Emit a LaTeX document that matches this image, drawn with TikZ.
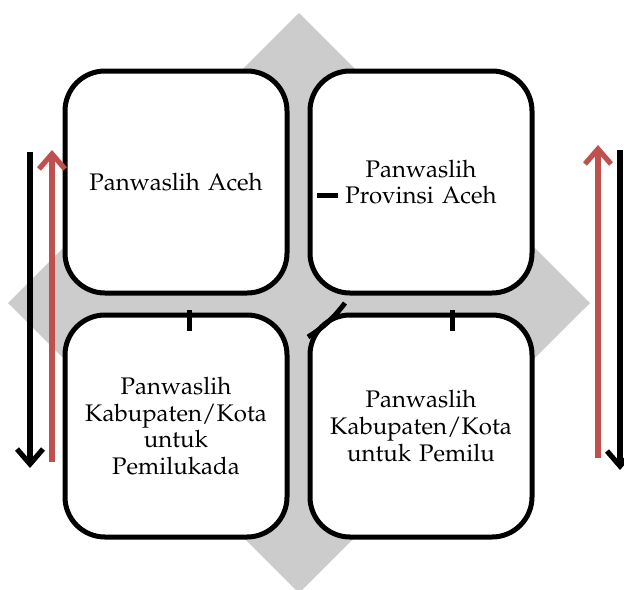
\documentclass[tikz,border=0pt]{standalone}
\usepackage[T1]{fontenc}
\usepackage{mathpazo}
\usetikzlibrary{arrows.meta}
\definecolor{arrowred}{RGB}{192,80,77}

\begin{document}
\begin{tikzpicture}[x=0.5pt, y=-0.5pt, line width=2.5pt,
  box/.style={draw, fill=white, rounded corners=20pt, minimum width=111pt, minimum height=111pt,
    inner sep=2pt, align=center, text width=100pt, font=\fontsize{12}{13.4}\selectfont},
  flow/.style={-{Straight Barb[length=7.5pt, width=13pt]}, line width=2.6pt}]
\useasboundingbox (0,0) rectangle (624,589);

% background diamond
\fill[gray!40] (299,13) -- (590,303) -- (299,593) -- (8,303) -- cycle;

% the four offices
\node[box] (aceh) at (176,182) {Panwaslih Aceh};
\node[box] (prov) at (421,182) {Panwaslih\\ Provinsi Aceh};
\node[box] (kada) at (176,426) {Panwaslih\\ Kabupaten/Kota\\ untuk\\ Pemilukada};
\node[box] (milu) at (421,426) {Panwaslih\\ Kabupaten/Kota\\ untuk Pemilu};

% small stubs
\coordinate (s1) at (189,310);  \coordinate (e1) at (189,331);
\coordinate (s2) at (452,310);  \coordinate (e2) at (452,331);
\coordinate (s3) at (317,195);  \coordinate (e3) at (338,195);
\coordinate (s4) at (345,303);  \coordinate (e4) at (308,337);
\draw (s1) -- (e1);
\draw (s2) -- (e2);
\draw (s3) -- (e3);
\draw (s4) to[bend left=10] (e4);

% side arrows
\coordinate (lt) at (30,152);  \coordinate (lb) at (30,468);
\coordinate (rlt) at (52,150); \coordinate (rlb) at (52,462);
\coordinate (rrt) at (598,145); \coordinate (rrb) at (598,458);
\coordinate (rt) at (620,150); \coordinate (rb) at (620,470);
\draw[flow] (lt) -- (lb);
\draw[flow, color=arrowred] (rlb) -- (rlt);
\draw[flow, color=arrowred] (rrb) -- (rrt);
\draw[flow] (rt) -- (rb);
\end{tikzpicture}
\end{document}
